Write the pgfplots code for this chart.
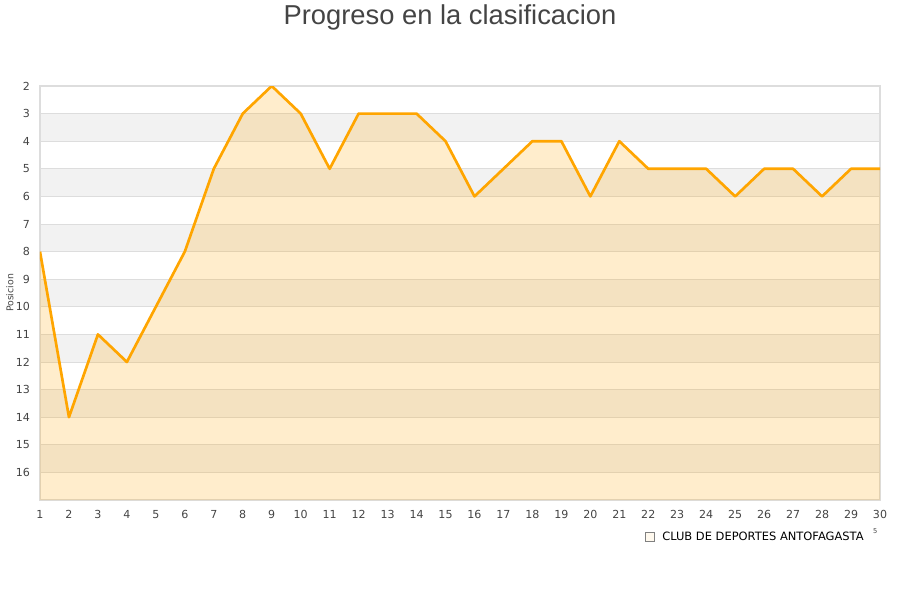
\documentclass[border=0pt]{standalone}
\usepackage{pgfplots}
\pgfplotsset{compat=1.18}
\usepackage{fontspec}
\setmainfont{DejaVu Sans}
\newfontfamily\titlefont{Liberation Sans}
\definecolor{lineor}{HTML}{FFA500}
\definecolor{band}{HTML}{F2F2F2}
\definecolor{gridc}{HTML}{DDDDDD}
\definecolor{txt}{HTML}{444444}
\definecolor{legfill}{HTML}{FFE0AA}
\pgfplotsset{
  common/.style={at={(30pt,75pt)}, anchor=south west,
  width=630pt, height=310.5pt, scale only axis,
  xmin=1, xmax=30, ymin=2, ymax=17, y dir=reverse},
  bandplot/.style={fill=band, draw=none, forget plot},
}
\begin{document}
\begin{tikzpicture}
\path[use as bounding box] (0pt,0pt) rectangle (675pt,450pt);
\node[font=\titlefont\fontsize{20.5}{24}\selectfont, text=txt] at (337.5pt,437pt) {Progreso en la clasificacion};
\begin{axis}[common, hide axis]
\addplot[bandplot] coordinates {(1,3) (30,3) (30,4) (1,4)};
\addplot[bandplot] coordinates {(1,5) (30,5) (30,6) (1,6)};
\addplot[bandplot] coordinates {(1,7) (30,7) (30,8) (1,8)};
\addplot[bandplot] coordinates {(1,9) (30,9) (30,10) (1,10)};
\addplot[bandplot] coordinates {(1,11) (30,11) (30,12) (1,12)};
\addplot[bandplot] coordinates {(1,13) (30,13) (30,14) (1,14)};
\addplot[bandplot] coordinates {(1,15) (30,15) (30,16) (1,16)};
\end{axis}
\begin{axis}[common,
  xtick={1,...,30}, ytick={2,...,16},
  extra y ticks={17}, extra y tick labels={},
  major tick length=0pt,
  ymajorgrids=true, xmajorgrids=false,
  major grid style={gridc, line width=0.6pt},
  axis line style={gridc, line width=0.8pt},
  tick label style={font=\fontsize{8.3}{10}\selectfont, text=txt},
  /pgf/number format/assume math mode=true,
  xticklabel style={yshift=-4pt},
  yticklabel style={xshift=-4pt},
  ylabel={Posicion},
  ylabel style={font=\fontsize{7}{8}\selectfont, text=txt, at={(rel axis cs:-0.0357,0.5)}, anchor=center},
  legend style={at={(rel axis cs:0.984,-0.089)}, anchor=east, draw=none, fill=none, inner sep=0pt,
     font=\fontsize{8.6}{10}\selectfont, text=black, legend cell align=left},
  legend image code/.code={\draw[fill=legfill, draw=gray, line width=0.5pt] (0pt,-3.4pt) rectangle (6.75pt,3.4pt); \path (11pt,0pt);},
]
\addplot[fill=lineor, fill opacity=0.2, draw=none] coordinates {
(1,17) (1,8) (2,14) (3,11) (4,12) (5,10) (6,8) (7,5) (8,3) (9,2) (10,3)
(11,5) (12,3) (13,3) (14,3) (15,4) (16,6) (17,5) (18,4) (19,4) (20,6)
(21,4) (22,5) (23,5) (24,5) (25,6) (26,5) (27,5) (28,6) (29,5) (30,5) (30,17)
};
\addlegendentry{CLUB DE DEPORTES ANTOFAGASTA}
\addplot[lineor, line width=2pt, line join=round, forget plot] coordinates {
(1,8) (2,14) (3,11) (4,12) (5,10) (6,8) (7,5) (8,3) (9,2) (10,3)
(11,5) (12,3) (13,3) (14,3) (15,4) (16,6) (17,5) (18,4) (19,4) (20,6)
(21,4) (22,5) (23,5) (24,5) (25,6) (26,5) (27,5) (28,6) (29,5) (30,5)
};
\end{axis}
\node[font=\fontsize{5}{6}\selectfont, text=txt] at (656.5pt,52pt) {5};
\end{tikzpicture}
\end{document}
